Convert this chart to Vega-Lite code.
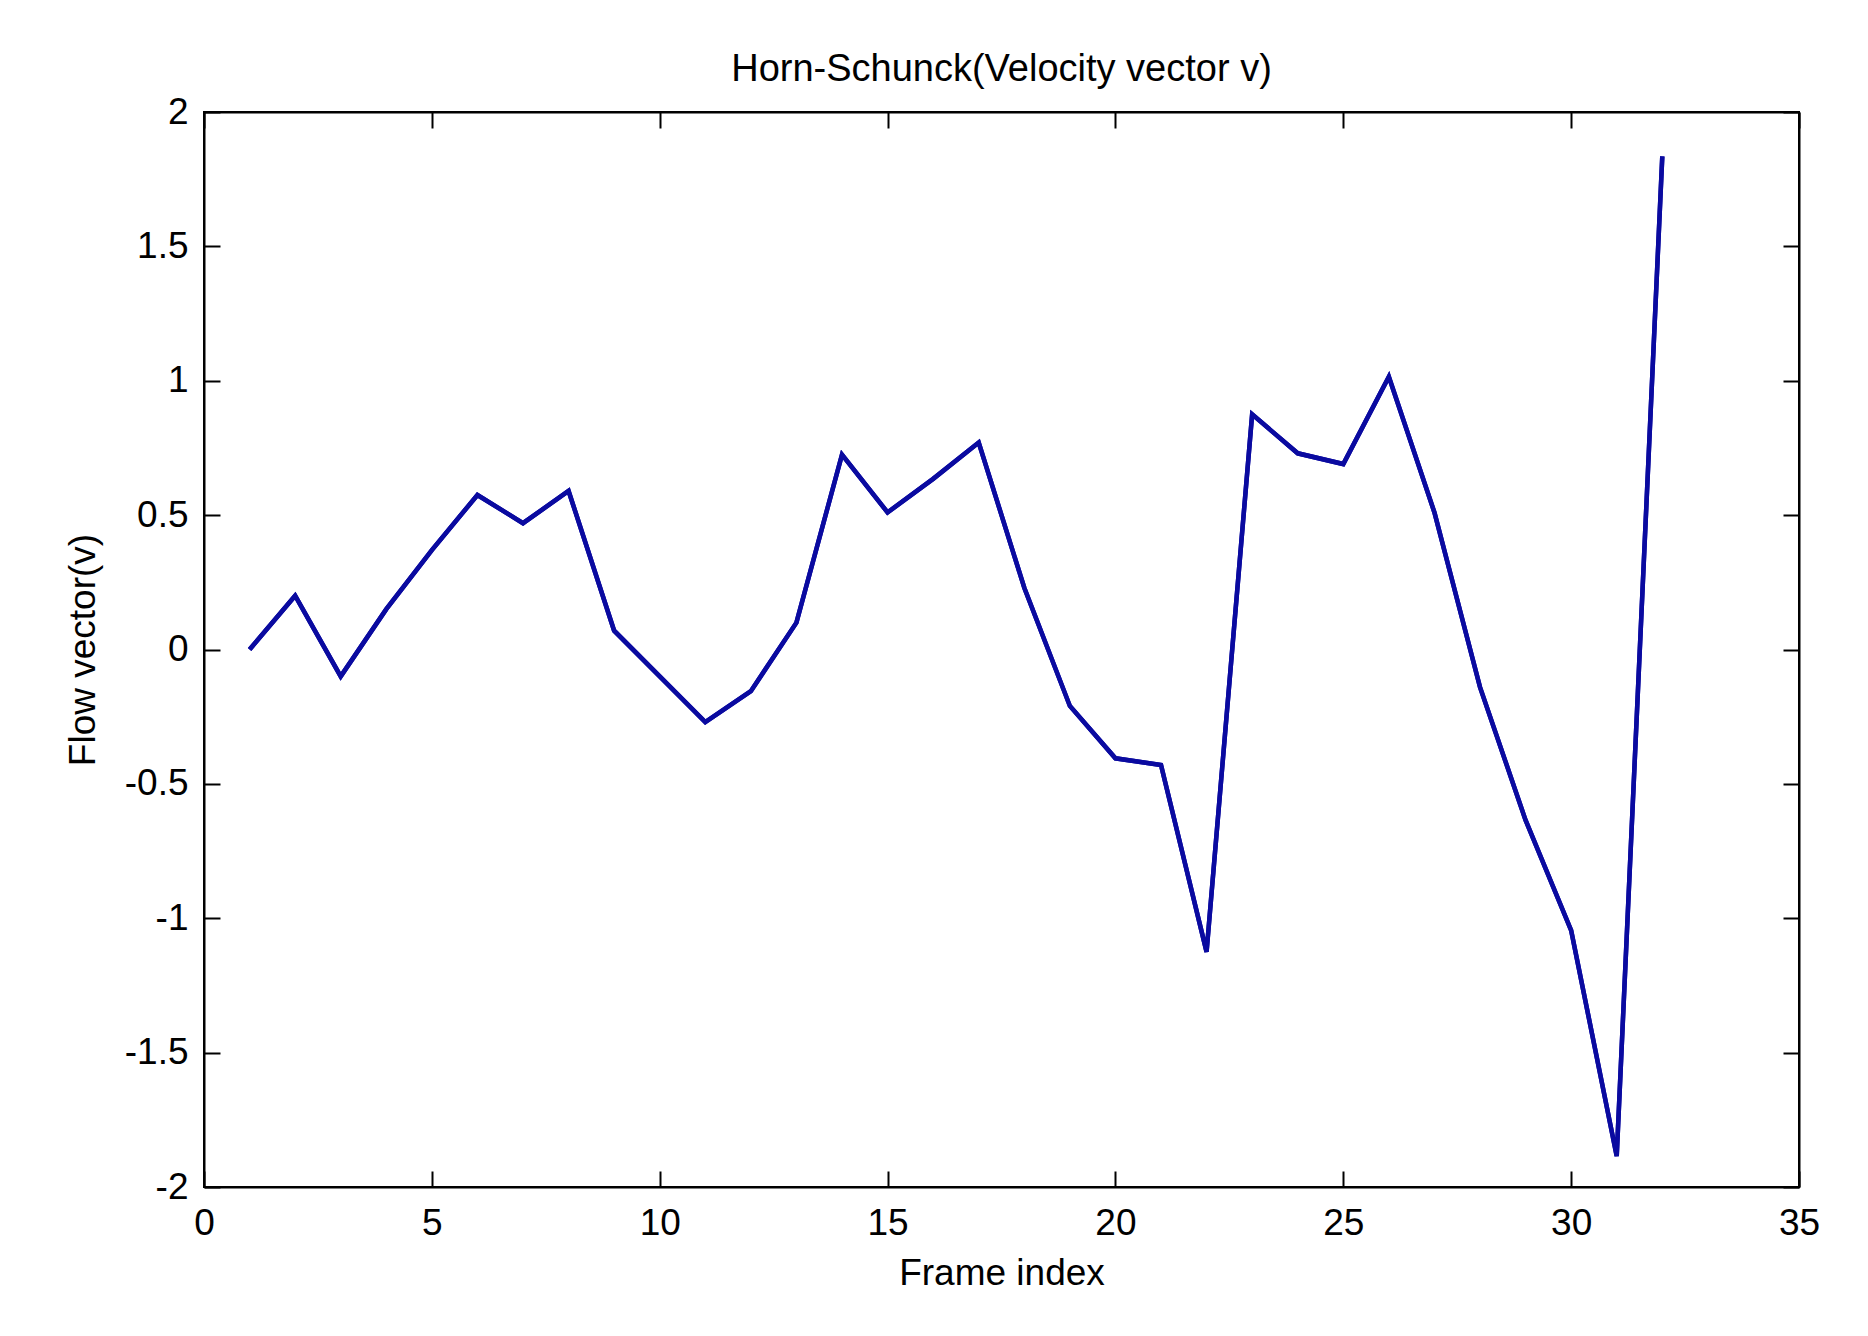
{
  "$schema": "https://vega.github.io/schema/vega-lite/v6.json",
  "width": 1595,
  "height": 1075,
  "autosize": {"type": "none"},
  "padding": {"left": 204, "top": 112, "right": 69, "bottom": 149},
  "background": "white",
  "title": {
    "text": "Horn-Schunck(Velocity vector v)",
    "font": "Liberation Sans",
    "fontSize": 38,
    "fontWeight": "normal",
    "color": "black",
    "offset": 4
  },
  "config": {
    "view": {"stroke": "black", "strokeWidth": 2},
    "axis": {
      "labelFont": "Liberation Sans",
      "labelFontSize": 37,
      "labelColor": "black",
      "labelFlush": false,
      "labelExpr": "'' + datum.value",
      "titleFont": "Liberation Sans",
      "titleFontSize": 37,
      "titleFontWeight": "normal",
      "titleColor": "black",
      "domainColor": "black",
      "domainWidth": 2,
      "tickColor": "black",
      "tickWidth": 2,
      "tickSize": -16,
      "grid": false
    }
  },
  "data": {
    "values": [
      {"frame": 1, "v": 0.0},
      {"frame": 2, "v": 0.2},
      {"frame": 3, "v": -0.1},
      {"frame": 4, "v": 0.15},
      {"frame": 5, "v": 0.37},
      {"frame": 6, "v": 0.575},
      {"frame": 7, "v": 0.47},
      {"frame": 8, "v": 0.59},
      {"frame": 9, "v": 0.07},
      {"frame": 10, "v": -0.1},
      {"frame": 11, "v": -0.27},
      {"frame": 12, "v": -0.155},
      {"frame": 13, "v": 0.1},
      {"frame": 14, "v": 0.725},
      {"frame": 15, "v": 0.51},
      {"frame": 16, "v": 0.635},
      {"frame": 17, "v": 0.77},
      {"frame": 18, "v": 0.23},
      {"frame": 19, "v": -0.21},
      {"frame": 20, "v": -0.405},
      {"frame": 21, "v": -0.43},
      {"frame": 22, "v": -1.125},
      {"frame": 23, "v": 0.875},
      {"frame": 24, "v": 0.73},
      {"frame": 25, "v": 0.69},
      {"frame": 26, "v": 1.015},
      {"frame": 27, "v": 0.51},
      {"frame": 28, "v": -0.14},
      {"frame": 29, "v": -0.635},
      {"frame": 30, "v": -1.045},
      {"frame": 31, "v": -1.885},
      {"frame": 32, "v": 1.835}
    ]
  },
  "layer": [
    {
      "mark": {"type": "line", "color": "#0a0aa0", "strokeWidth": 4.5, "clip": true},
      "encoding": {
        "x": {
          "field": "frame", "type": "quantitative",
          "scale": {"domain": [0, 35], "nice": false, "zero": false},
          "axis": {"title": "Frame index", "values": [0, 5, 10, 15, 20, 25, 30, 35], "labelPadding": 34, "titlePadding": 14, "orient": "bottom"}
        },
        "y": {
          "field": "v", "type": "quantitative",
          "scale": {"domain": [-2, 2], "nice": false, "zero": false},
          "axis": {"title": "Flow vector(v)", "values": [-2, -1.5, -1, -0.5, 0, 0.5, 1, 1.5, 2], "labelPadding": 32, "titlePadding": 22, "orient": "left"}
        }
      }
    },
    {
      "mark": {"type": "line", "color": "#0a0aa0", "strokeWidth": 4.5, "clip": true},
      "encoding": {
        "x": {
          "field": "frame", "type": "quantitative",
          "scale": {"domain": [0, 35], "nice": false, "zero": false},
          "axis": {"title": null, "labels": false, "values": [0, 5, 10, 15, 20, 25, 30, 35], "orient": "top"}
        },
        "y": {
          "field": "v", "type": "quantitative",
          "scale": {"domain": [-2, 2], "nice": false, "zero": false},
          "axis": {"title": null, "labels": false, "values": [-2, -1.5, -1, -0.5, 0, 0.5, 1, 1.5, 2], "orient": "right"}
        }
      }
    }
  ],
  "resolve": {"axis": {"x": "independent", "y": "independent"}}
}
